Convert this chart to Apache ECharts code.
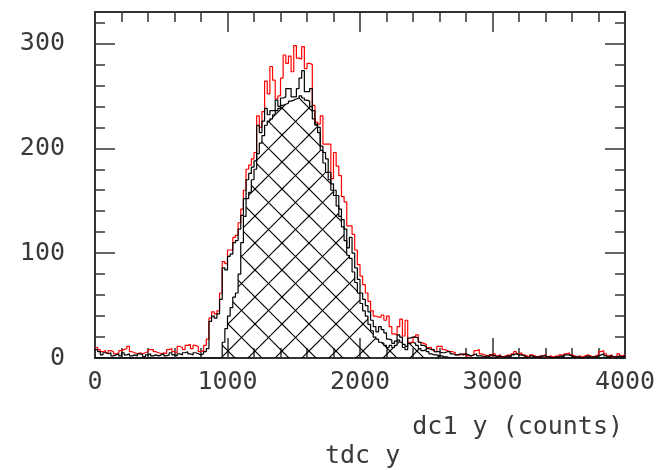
<!DOCTYPE html>
<html><head><meta charset="utf-8">
<script src="https://cdn.jsdelivr.net/npm/echarts@6/dist/echarts.min.js"></script>
<style>html,body{margin:0;padding:0;background:#fff}#c{width:664px;height:470px}</style>
</head><body><div id="c"></div>
<script>
// ---- data ----
const binWidth = 20;               // dc1 y bin width
const xTickLabels = ['0','1000','2000','3000','4000'];
const yTickLabels = ['0','100','200','300'];
const xTitle = 'dc1 y (counts)';
const plotTitle = 'tdc y';

// red: all entries
const allCounts = [
 10,8,6,7,5,7,6,4,5,7,
 8,9,11,6,5,4,5,4,5,6,
 8,8,6,5,4,5,4,8,9,6,
 5,11,10,8,12,13,9,12,11,6,
 7,12,18,38,44,42,45,62,92,90,
 103,103,115,117,129,142,160,180,184,190,
 196,231,220,235,264,252,278,265,247,250,
 267,289,281,288,273,298,286,285,297,276,
 281,280,241,225,223,231,204,204,204,171,
 196,183,174,154,149,126,126,118,103,89,
 78,70,62,54,45,40,39,39,41,36,
 40,30,23,22,30,37,21,36,15,15,
 20,22,15,14,13,10,10,8,6,11,
 11,8,7,6,6,5,3,3,4,4,
 2,2,3,7,8,4,3,2,3,2,
 4,2,3,1,2,3,2,4,6,4,
 5,3,2,1,3,2,1,2,2,3,
 1,2,1,2,1,3,2,4,5,3,
 2,1,2,1,2,3,2,1,2,3,
 6,7,4,2,3,1,2,4,2,3
];
// black outline: selected entries
const cutCounts = [
 8,6,3,5,4,5,2,3,4,2,
 5,3,4,2,3,2,4,3,1,3,
 4,2,3,2,3,4,2,3,5,3,
 2,4,3,5,6,4,3,5,4,3,
 4,6,9,35,40,38,42,56,86,84,
 97,99,110,112,123,136,152,170,176,182,
 188,222,215,226,238,232,236,236,246,240,
 248,249,257,257,249,249,257,267,274,254,
 254,257,236,223,220,202,196,190,177,166,
 160,155,142,132,123,105,115,100,86,75,
 62,56,50,44,36,30,25,30,27,24,
 18,17,14,16,22,20,13,11,19,20,
 20,19,15,12,11,9,8,8,6,6,
 5,5,6,6,4,3,3,4,3,4,
 3,2,3,4,2,2,1,2,1,3,
 2,1,2,1,1,2,1,3,4,3,
 3,2,1,0,2,1,1,1,2,2,
 1,1,0,1,1,2,1,3,3,2,
 1,1,1,0,1,2,1,1,1,2,
 3,4,2,1,2,1,1,2,1,2
];
// hatched: tdc y matched entries
const hatchCounts = [
 0,0,0,0,0,0,0,0,0,0,
 0,0,0,0,0,0,0,0,0,0,
 0,0,0,0,0,0,0,0,0,0,
 0,0,0,0,0,0,0,0,0,0,
 0,0,0,0,0,0,0,0,15,28,
 40,48,58,62,80,110,135,152,158,170,
 180,195,205,212,222,226,228,232,236,238,
 241,242,243,245,246,247,248,250,248,246,
 245,240,228,222,215,198,186,177,170,160,
 155,145,135,125,112,98,95,82,72,62,
 52,45,40,32,26,20,18,15,14,12,
 10,12,10,12,17,15,10,8,14,15,
 14,12,9,7,8,6,4,3,3,2,
 2,1,1,0,0,0,0,0,0,0,
 0,0,0,0,0,0,0,0,0,0,
 0,0,0,0,0,0,0,0,0,0,
 0,0,0,0,0,0,0,0,0,0,
 0,0,0,0,0,0,0,0,0,0,
 0,0,0,0,0,0,0,0,0,0,
 0,0,0,0,0,0,0,0,0,0
];

// ---- build ----
function steps(counts){
  const d = counts.map((c,i)=>[i*binWidth, c]);
  d.push([counts.length*binWidth, counts[counts.length-1]]);
  return d;
}
const P = 27;
const cv = document.createElement('canvas'); cv.width = P; cv.height = P;
const g = cv.getContext('2d'); g.strokeStyle = '#000'; g.lineWidth = 1.2;
const ox = 12, oy = 0;
for (let k=-2;k<=2;k++){
  g.beginPath(); g.moveTo(ox+k*P-P, oy-P); g.lineTo(ox+k*P+2*P, oy+2*P); g.stroke();
  g.beginPath(); g.moveTo(ox+k*P+P, oy-P); g.lineTo(ox+k*P-2*P, oy+2*P); g.stroke();
}

const FONT = "'DejaVu Sans Mono',monospace";
const TXT = '#3a3a3a';
const axisCol = '#333';
function xAx(pos, labels){
  return {type:'value', min:0, max:4000, interval:1000, position:pos,
    axisLine:{show:true, onZero:false, lineStyle:{color:axisCol, width:2}},
    axisTick:{show:true, inside:true, length:20, lineStyle:{color:axisCol, width:1.5}},
    minorTick:{show:true, splitNumber:5, length:10, lineStyle:{color:axisCol, width:1.5}},
    splitLine:{show:false}, minorSplitLine:{show:false},
    axisLabel:{show:labels, margin:12, fontSize:25, color:TXT, fontFamily:FONT,
      formatter:(v)=>{const i=Math.round(v/1000); return xTickLabels[i]!==undefined && v%1000===0 ? xTickLabels[i] : '';}}
  };
}
function yAx(pos, labels){
  return {type:'value', min:0, max:330, interval:100, position:pos,
    axisLine:{show:true, onZero:false, lineStyle:{color:axisCol, width:2}},
    axisTick:{show:true, inside:true, length:20, lineStyle:{color:axisCol, width:1.5}},
    minorTick:{show:true, splitNumber:5, length:10, lineStyle:{color:axisCol, width:1.5}},
    splitLine:{show:false}, minorSplitLine:{show:false},
    axisLabel:{show:labels, margin:30, fontSize:25, color:TXT, fontFamily:FONT, showMaxLabel:false,
      formatter:(v)=>{const i=Math.round(v/100); return v%100===0 && yTickLabels[i]!==undefined ? yTickLabels[i] : '';}}
  };
}

const chart = echarts.init(document.getElementById('c'), null, {renderer:'canvas'});
chart.setOption({
  animation:false,
  backgroundColor:'#fff',
  grid:{left:95, right:39, top:12, bottom:112},
  xAxis:[xAx('bottom', true), xAx('top', false)],
  yAxis:[yAx('left', true), yAx('right', false)],
  series:[
    {type:'line', step:'end', data:steps(hatchCounts), symbol:'none', z:1,
     lineStyle:{color:'#000', width:1.2},
     areaStyle:{color:{image:cv, repeat:'repeat'}, opacity:1}},
    {type:'line', step:'end', data:steps(allCounts), symbol:'none', z:2,
     lineStyle:{color:'#ff0000', width:1.2}},
    {type:'line', step:'end', data:steps(cutCounts), symbol:'none', z:3,
     lineStyle:{color:'#000', width:1.2}}
  ],
  graphic:[
    {type:'text', right:41, top:415, style:{text:xTitle, fontSize:25, fontFamily:FONT, fill:TXT}},
    {type:'text', left:325, top:444, style:{text:plotTitle, fontSize:25, fontFamily:FONT, fill:TXT}}
  ]
});
</script></body></html>
